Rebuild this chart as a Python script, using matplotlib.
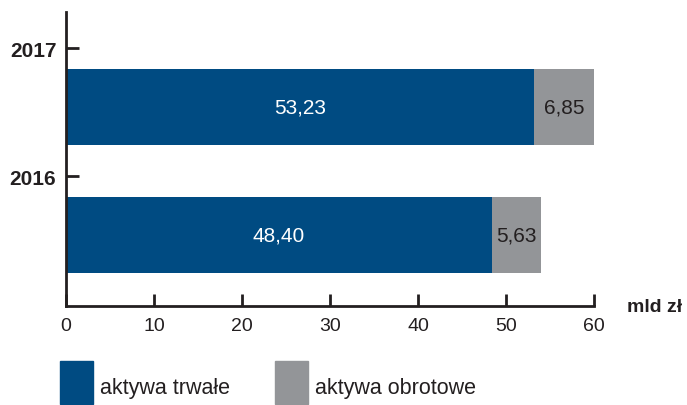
import matplotlib
matplotlib.use("Agg")
import matplotlib.pyplot as plt
from matplotlib.patches import Rectangle

# Data (mld zł)
years = ["2016", "2017"]
fixed_assets = [48.40, 53.23]
current_assets = [5.63, 6.85]
series_names = ["aktywa trwałe", "aktywa obrotowe"]
x_ticks = [0, 10, 20, 30, 40, 50, 60]

BLUE = "#004B82"
GREY = "#939598"
INK = "#231F20"

plt.rcParams["font.family"] = ["Liberation Sans", "DejaVu Sans"]

fig = plt.figure(figsize=(6.87, 4.06), dpi=100)
ax = fig.add_axes([66 / 687, 1 - 307 / 406, (594 - 66) / 687, (307 - 13) / 406])

pos = [0.0, 0.975]
bar_h = 0.58
ax.barh(pos, fixed_assets, height=bar_h, color=BLUE, edgecolor="none")
ax.barh(pos, current_assets, left=fixed_assets, height=bar_h, color=GREY, edgecolor="none")

def fmt(v):
    return f"{v:.2f}".replace(".", ",")

for y, a, b in zip(pos, fixed_assets, current_assets):
    ax.text(a / 2, y, fmt(a), ha="center", va="center", color="white", fontsize=15)
    ax.text(a + b / 2, y, fmt(b), ha="center", va="center", color=INK, fontsize=15)

ax.set_xlim(0, 60)
ax.set_ylim(-0.54, 1.70)

ax.set_xticks(x_ticks)
ax.set_xticklabels([str(t) for t in x_ticks])
ax.set_yticks([p + 0.45 for p in pos])
ax.set_yticklabels(years, fontweight="bold")

for s in ["top", "right"]:
    ax.spines[s].set_visible(False)
for s in ["left", "bottom"]:
    ax.spines[s].set_linewidth(2.0)
    ax.spines[s].set_color(INK)

ax.tick_params(axis="x", direction="in", length=9, width=2.0, color=INK,
               labelsize=14, labelcolor=INK, pad=8)
ax.tick_params(axis="y", direction="in", length=9, width=2.0, color=INK,
               labelsize=15, labelcolor=INK, pad=7)

ax.text(1.062, 0.0, "mld zł", transform=ax.transAxes, ha="left", va="center",
        fontsize=14, fontweight="bold", color=INK)

# Legend drawn with figure-level patches
W, H = 687, 406
for x0, color, label in [(60, BLUE, series_names[0]), (275, GREY, series_names[1])]:
    fig.patches.append(Rectangle((x0 / W, 1 - 405 / H), 33 / W, 43 / H,
                                 transform=fig.transFigure, color=color))
    fig.text((x0 + 40) / W, 1 - 389 / H, label, ha="left", va="center",
             fontsize=15.5, color=INK)

fig.savefig("out.png", dpi=100)
